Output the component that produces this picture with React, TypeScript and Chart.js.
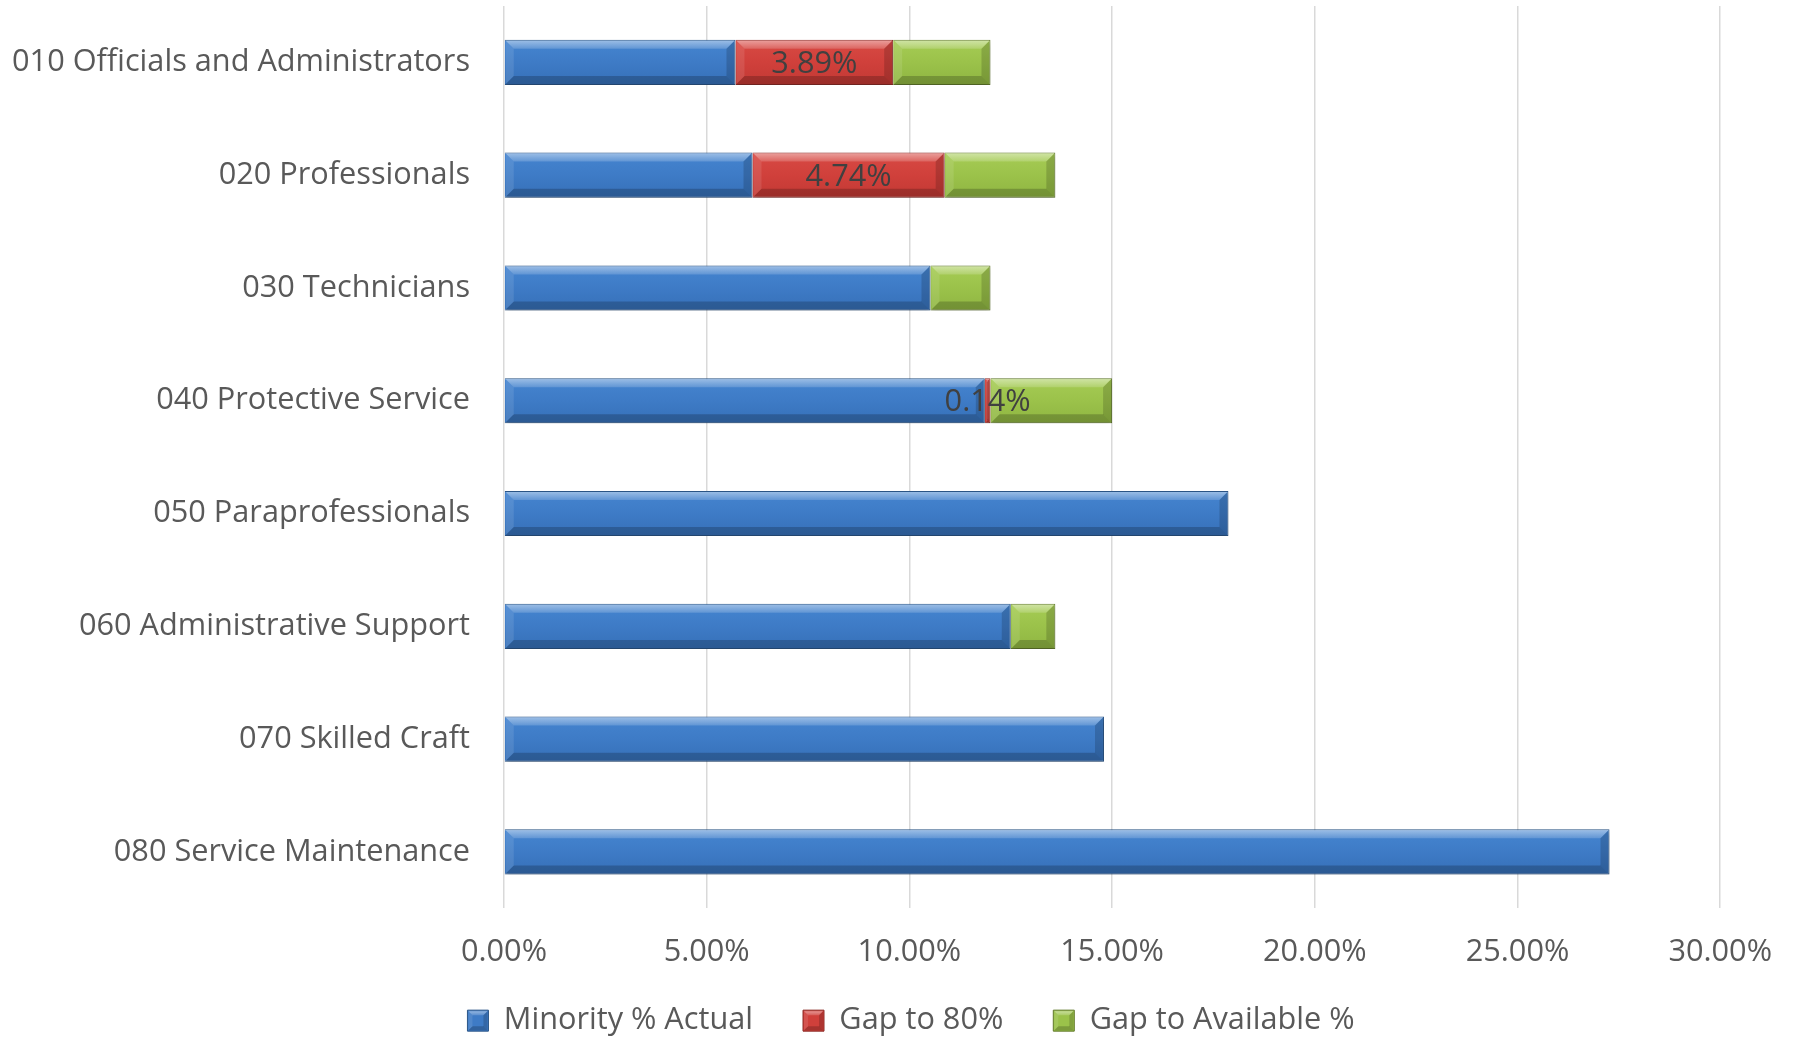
import React, { useEffect, useRef } from "react";
import { Chart, registerables } from "chart.js";

Chart.register(...registerables);

// ---- data ----
const categories = [
  "010 Officials and Administrators",
  "020 Professionals",
  "030 Technicians",
  "040 Protective Service",
  "050 Paraprofessionals",
  "060 Administrative Support",
  "070 Skilled Craft",
  "080 Service Maintenance",
];
const minorityActual = [5.71, 6.13, 10.52, 11.86, 17.87, 12.5, 14.8, 27.27];
const gapTo80 = [3.89, 4.74, 0, 0.14, 0, 0, 0, 0];
const gapToAvailable = [2.4, 2.73, 1.48, 3.0, 0, 1.1, 0, 0];
const seriesNames = ["Minority % Actual", "Gap to 80%", "Gap to Available %"];
const xMin = 0;
const xMax = 30;
const xStep = 5;

// ---- styles ----
const FONT = "'Open Sans', 'Noto Sans', sans-serif";
const FONT_SIZE = 30.7;
const TEXT_COLOR = "#595959";
const LABEL_COLOR = "#404040";
const BAR_PCT = 0.4;
const LEFT_PAD = 100;

const palettes = [
  { top: "#4585d0", base: "#3e7bc6", bottom: "#3670b8", border: "#2b5587" },
  { top: "#d84a44", base: "#d0403b", bottom: "#c23934", border: "#8b2a26" },
  { top: "#a6cc55", base: "#9bc24a", bottom: "#8fb542", border: "#61792b" },
];

function gradientFor(idx: number) {
  return (ctx: any) => {
    const p = palettes[idx];
    const chart = ctx.chart;
    const ys = chart.scales && chart.scales.y;
    if (!ys || ctx.dataIndex === undefined) return p.base;
    const c = ys.getPixelForValue(ctx.dataIndex);
    const c1 = ys.getPixelForValue(ctx.dataIndex + 1);
    if (!Number.isFinite(c) || !Number.isFinite(c1) || c1 === c) return p.base;
    const half = (Math.abs(c1 - c) * BAR_PCT) / 2;
    const g = chart.ctx.createLinearGradient(0, c - half, 0, c + half);
    g.addColorStop(0, p.top);
    g.addColorStop(0.5, p.base);
    g.addColorStop(1, p.bottom);
    return g;
  };
}

const shadowPlugin = {
  id: "barShadow",
  beforeDatasetDraw(chart: any) {
    const ctx = chart.ctx;
    ctx.shadowColor = "rgba(0,0,0,0.25)";
    ctx.shadowBlur = 5;
    ctx.shadowOffsetX = 1;
    ctx.shadowOffsetY = 3;
  },
  afterDatasetDraw(chart: any) {
    const ctx = chart.ctx;
    ctx.shadowColor = "rgba(0,0,0,0)";
    ctx.shadowBlur = 0;
    ctx.shadowOffsetX = 0;
    ctx.shadowOffsetY = 0;
  },
};

function quad(ctx: any, pts: number[][], fill: any) {
  ctx.fillStyle = fill;
  ctx.beginPath();
  ctx.moveTo(pts[0][0], pts[0][1]);
  for (let i = 1; i < pts.length; i++) ctx.lineTo(pts[i][0], pts[i][1]);
  ctx.closePath();
  ctx.fill();
}

function drawBevel(ctx: any, left: number, top: number, right: number, bottom: number, bMax: number) {
  const w = right - left;
  const h = bottom - top;
  if (w < 2) return;
  const b = Math.min(bMax, w / 2, h / 2);
  const l = left + 1, t = top + 1, r = right - 1, bt = bottom - 1;
  const gTop = ctx.createLinearGradient(0, t, 0, t + b);
  gTop.addColorStop(0, "rgba(255,255,255,0.45)");
  gTop.addColorStop(1, "rgba(255,255,255,0.16)");
  quad(ctx, [[l, t], [r, t], [r - b, t + b], [l + b, t + b]], gTop);
  quad(ctx, [[l, bt], [r, bt], [r - b, bt - b], [l + b, bt - b]], "rgba(0,0,0,0.2)");
  quad(ctx, [[l, t], [l + b, t + b], [l + b, bt - b], [l, bt]], "rgba(255,255,255,0.1)");
  quad(ctx, [[r, t], [r - b, t + b], [r - b, bt - b], [r, bt]], "rgba(0,0,0,0.16)");
}

const bevelPlugin = {
  id: "bevel",
  afterDatasetsDraw(chart: any) {
    const ctx = chart.ctx;
    ctx.save();
    chart.data.datasets.forEach((_ds: any, di: number) => {
      const meta = chart.getDatasetMeta(di);
      meta.data.forEach((el: any) => {
        const { x, y, base, height } = el.getProps(["x", "y", "base", "height"], true);
        drawBevel(ctx, Math.min(base, x), y - height / 2, Math.max(base, x), y + height / 2, 8);
      });
    });
    ctx.restore();
  },
  afterDraw(chart: any) {
    const lg = chart.legend;
    if (!lg || !lg.legendHitBoxes) return;
    const ctx = chart.ctx;
    const bw = lg.options.labels.boxWidth;
    const bh = lg.options.labels.boxHeight;
    const fs = lg.options.labels.font.size;
    ctx.save();
    lg.legendHitBoxes.forEach((hb: any) => {
      const top = hb.top + Math.max((fs - bh) / 2, 0);
      drawBevel(ctx, hb.left, top, hb.left + bw, top + bh, 4);
    });
    ctx.restore();
  },
};

const valueLabelPlugin = {
  id: "valueLabels",
  afterDatasetsDraw(chart: any) {
    const ctx = chart.ctx;
    const meta = chart.getDatasetMeta(1);
    ctx.save();
    ctx.font = `${FONT_SIZE}px ${FONT}`;
    ctx.fillStyle = LABEL_COLOR;
    ctx.textAlign = "center";
    ctx.textBaseline = "middle";
    meta.data.forEach((el: any, i: number) => {
      const v = gapTo80[i];
      if (!v) return;
      const { x, y, base } = el.getProps(["x", "y", "base"], true);
      ctx.fillText(v.toFixed(2) + "%", (x + base) / 2, y + 2);
    });
    ctx.restore();
  },
};

export default function App() {
  const canvasRef = useRef<HTMLCanvasElement | null>(null);

  useEffect(() => {
    document.body.style.margin = "0";
    const canvas = canvasRef.current;
    if (!canvas) return;
    const series = [minorityActual, gapTo80, gapToAvailable];
    const chart = new Chart(canvas, {
      type: "bar",
      data: {
        labels: categories,
        datasets: series.map((vals, i) => ({
          label: seriesNames[i],
          data: vals,
          backgroundColor: gradientFor(i),
          borderColor: palettes[i].border,
          borderWidth: 1,
          barPercentage: BAR_PCT,
          categoryPercentage: 1,
        })),
      },
      options: {
        indexAxis: "y",
        responsive: false,
        animation: false,
        devicePixelRatio: 1,
        layout: { padding: { top: 6, right: 76, left: LEFT_PAD, bottom: -9 } },
        scales: {
          x: {
            stacked: true,
            min: xMin,
            max: xMax,
            ticks: {
              stepSize: xStep,
              padding: 26,
              color: TEXT_COLOR,
              font: { family: FONT, size: FONT_SIZE },
              callback: (v: any) => Number(v).toFixed(2) + "%",
            },
            grid: { color: "#d9d9d9", lineWidth: 1.5, drawTicks: false },
            border: { display: false },
            afterFit: (s: any) => {
              s.height = 47;
              s._computeLabelArea = () => undefined;
            },
          },
          y: {
            stacked: true,
            ticks: {
              padding: 34,
              color: TEXT_COLOR,
              font: { family: FONT, size: FONT_SIZE },
            },
            grid: { display: false, drawTicks: false },
            border: { display: false },
            afterFit: (s: any) => {
              s.width = 504 - LEFT_PAD;
              s.paddingTop = 0;
              s.paddingBottom = 0;
              s._computeLabelArea = () => undefined;
            },
          },
        },
        plugins: {
          legend: {
            position: "bottom",
            labels: {
              boxWidth: 21,
              boxHeight: 21,
              padding: 50,
              color: TEXT_COLOR,
              font: { family: FONT, size: FONT_SIZE },
              generateLabels: () =>
                seriesNames.map((name, i) => ({
                  text: name,
                  fillStyle: palettes[i].base,
                  strokeStyle: palettes[i].border,
                  lineWidth: 1,
                  hidden: false,
                  datasetIndex: i,
                  fontColor: TEXT_COLOR,
                })),
            },
          },
          tooltip: { enabled: false },
        },
      },
      plugins: [shadowPlugin, bevelPlugin, valueLabelPlugin],
    } as any);
    return () => chart.destroy();
  }, []);

  return (
    <div style={{ position: "absolute", left: 0, top: 0, width: 1798, height: 1037, background: "#fff" }}>
      <canvas ref={canvasRef} width={1798} height={1037} style={{ display: "block" }} />
    </div>
  );
}
